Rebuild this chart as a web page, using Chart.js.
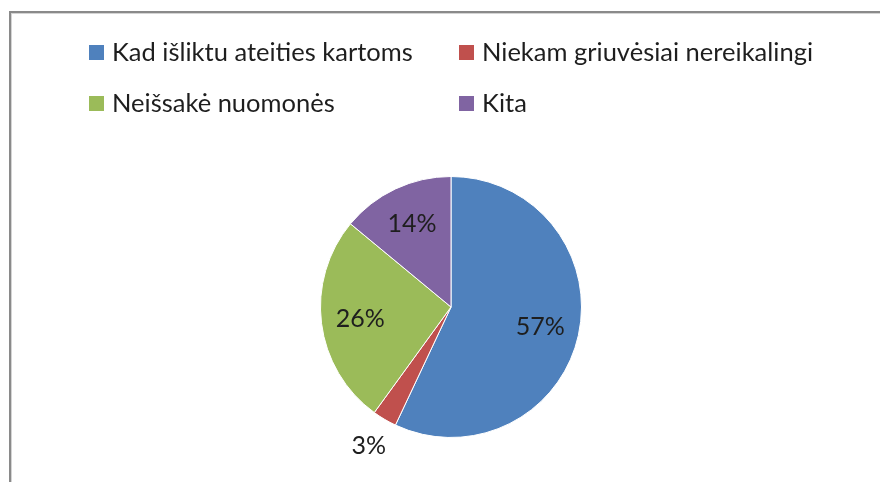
<!DOCTYPE html>
<html>
<head>
<meta charset="utf-8">
<script src="https://cdn.jsdelivr.net/npm/chart.js@4/dist/chart.umd.min.js"></script>
<style>
  html, body { margin: 0; padding: 0; background: #fff; }
  #wrap { position: relative; width: 880px; height: 482px; overflow: hidden; }
  #frame {
    position: absolute; left: 9px; top: 11px; width: 900px; height: 500px;
    border-left: 2px solid #8a8a8a; border-top: 2px solid #8a8a8a;
    box-shadow: inset 1px 1px 0 #d4d4d4;
  }
  #pie { position: absolute; left: 0; top: 0; }
  #legend { position: absolute; left: 0; top: 0; font-family: Lato, "Open Sans", sans-serif; font-size: 25.5px; color: #1e1e1e; }
  .item { position: absolute; white-space: nowrap; line-height: 1; }
  .item span.box { display: inline-block; width: 15px; height: 15px; margin-right: 8px; vertical-align: 1px; }
</style>
</head>
<body>
<div id="wrap">
  <div id="frame"></div>
  <canvas id="pie" width="880" height="482"></canvas>
  <div id="legend"></div>
</div>
<script>
// Datos del gráfico
const categorias = ['Kad išliktu ateities kartoms', 'Niekam griuvėsiai nereikalingi', 'Neišsakė nuomonės', 'Kita'];
const porcentajes = [57, 3, 26, 14];
const colores = ['#4F81BD', '#C0504D', '#9BBB59', '#8064A2'];

// Etiquetas de porcentaje dibujadas sobre cada porción
const etiquetasPlugin = {
  id: 'etiquetas',
  afterDatasetsDraw(chart) {
    const ctx = chart.ctx;
    const meta = chart.getDatasetMeta(0);
    ctx.save();
    ctx.font = '25px Lato, "Open Sans", sans-serif';
    ctx.fillStyle = '#1e1e1e';
    ctx.textAlign = 'center';
    ctx.textBaseline = 'middle';
    meta.data.forEach(function(arc, i) {
      const p = arc.getProps(['x', 'y', 'startAngle', 'endAngle', 'outerRadius'], true);
      const mid = (p.startAngle + p.endAngle) / 2;
      // porciones pequeñas: etiqueta afuera
      const r = porcentajes[i] < 5 ? p.outerRadius + 31 : p.outerRadius * 0.7;
      ctx.fillText(porcentajes[i] + '%', p.x + Math.cos(mid) * r, p.y + Math.sin(mid) * r);
    });
    ctx.restore();
  }
};

new Chart(document.getElementById('pie').getContext('2d'), {
  type: 'pie',
  data: {
    labels: categorias,
    datasets: [{
      data: porcentajes,
      backgroundColor: colores,
      borderColor: '#ffffff',
      borderWidth: 1
    }]
  },
  options: {
    responsive: false,
    animation: false,
    layout: { padding: { left: 320, right: 298, top: 176, bottom: 44 } },
    plugins: { legend: { display: false }, tooltip: { enabled: false } }
  },
  plugins: [etiquetasPlugin]
});

// Leyenda en dos columnas
const legend = document.getElementById('legend');
const columnas = [89, 459];
const filas = [39, 90];
categorias.forEach(function(c, i) {
  const d = document.createElement('div');
  d.className = 'item';
  d.style.left = columnas[i % 2] + 'px';
  d.style.top = filas[Math.floor(i / 2)] + 'px';
  d.innerHTML = '<span class="box" style="background:' + colores[i] + '"></span>' + c;
  legend.appendChild(d);
});
</script>
</body>
</html>
